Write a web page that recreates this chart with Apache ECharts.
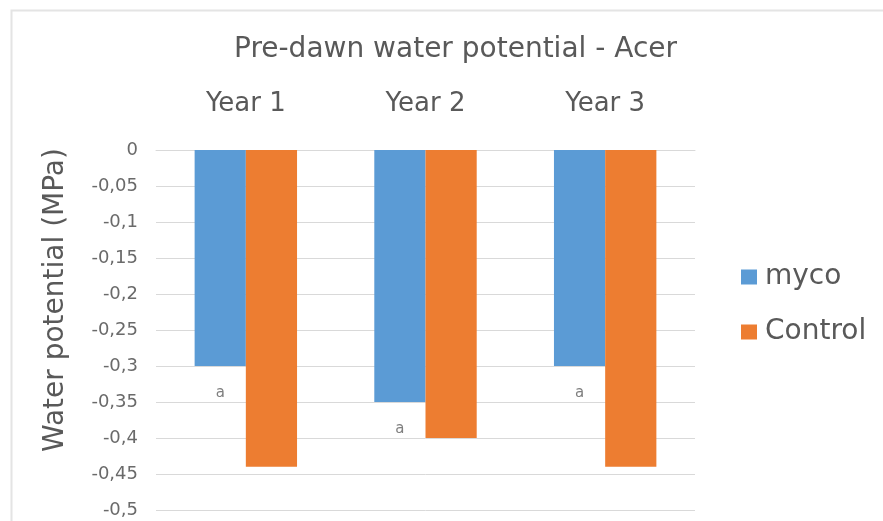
<!DOCTYPE html>
<html>
<head>
<meta charset="utf-8">
<script src="https://cdn.jsdelivr.net/npm/echarts@6/dist/echarts.min.js"></script>
<style>
  html, body { margin: 0; padding: 0; background: #fff; }
  #chart { width: 883px; height: 521px; }
</style>
</head>
<body>
<div id="chart"></div>
<script>
// Pre-dawn water potential (MPa) per year, two treatments
const years = ['Year 1', 'Year 2', 'Year 3'];
const mycoValues = [-0.30, -0.35, -0.30];
const controlValues = [-0.44, -0.40, -0.44];
const mycoLetters = ['a', 'a', 'a'];
const yTicks = [0, -0.05, -0.1, -0.15, -0.2, -0.25, -0.3, -0.35, -0.4, -0.45, -0.5];

const textColor = '#595959';
const fontFamily = '"DejaVu Sans", sans-serif';

const chart = echarts.init(document.getElementById('chart'), null, { renderer: 'canvas' });

chart.setOption({
  backgroundColor: '#ffffff',
  animation: false,
  textStyle: { fontFamily: fontFamily, color: textColor },
  graphic: [{
    type: 'rect',
    left: 9, top: 8,
    shape: { width: 880, height: 520 },
    style: { fill: 'none', stroke: '#e4e4e4', lineWidth: 2 },
    silent: true
  }],
  title: {
    text: 'Pre-dawn water potential - Acer',
    left: 229,
    top: 31,
    textStyle: { fontFamily: fontFamily, fontSize: 28, fontWeight: 'normal', color: textColor }
  },
  legend: {
    orient: 'vertical',
    left: 736,
    top: 258,
    itemWidth: 16,
    itemHeight: 15,
    itemGap: 27,
    icon: 'rect',
    textStyle: { fontFamily: fontFamily, fontSize: 28, color: textColor, padding: [0, 0, 0, 3] },
    data: ['myco', 'Control']
  },
  grid: { left: 156, right: 188, top: 150, bottom: 11, containLabel: false },
  xAxis: {
    type: 'category',
    position: 'top',
    data: years,
    axisLine: { show: true, lineStyle: { color: '#d9d9d9', width: 1 } },
    axisTick: { show: false },
    axisLabel: { fontFamily: fontFamily, fontSize: 26, color: textColor, margin: 33 }
  },
  yAxis: {
    type: 'value',
    min: -0.5,
    max: 0,
    interval: 0.05,
    name: 'Water potential (MPa)',
    nameLocation: 'middle',
    nameGap: 86,
    nameRotate: 90,
    nameTextStyle: { fontFamily: fontFamily, fontSize: 28, color: textColor, padding: [0, 0, 0, 60] },
    axisLine: { show: false },
    axisTick: { show: false },
    splitLine: { show: true, lineStyle: { color: '#d9d9d9', width: 1 } },
    axisLabel: {
      fontFamily: fontFamily,
      fontSize: 18,
      color: '#6a6a6a',
      margin: 18,
      formatter: function (v) {
        const r = Math.round(v * 100) / 100;
        const t = yTicks.find(x => Math.abs(x - r) < 1e-9);
        if (t === undefined) return '';
        return t === 0 ? '0' : String(t).replace('.', ',');
      }
    }
  },
  series: [
    {
      name: 'myco',
      type: 'bar',
      data: mycoValues,
      barGap: '0%',
      barCategoryGap: '43%',
      itemStyle: { color: '#5b9bd5' },
      label: {
        show: true,
        position: 'bottom',
        distance: 20,
        fontFamily: fontFamily,
        fontSize: 15,
        color: '#7f7f7f',
        formatter: function (p) { return mycoLetters[p.dataIndex]; }
      }
    },
    {
      name: 'Control',
      type: 'bar',
      data: controlValues,
      barGap: '0%',
      barCategoryGap: '43%',
      itemStyle: { color: '#ed7d31' }
    }
  ]
});
</script>
</body>
</html>
